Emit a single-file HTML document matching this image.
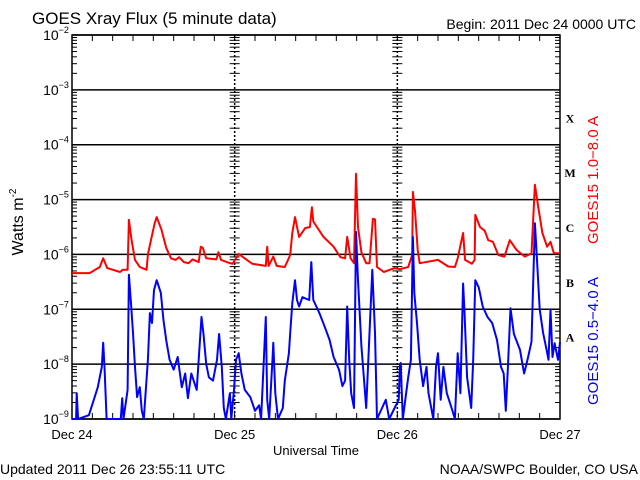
<!DOCTYPE html>
<html><head><meta charset="utf-8"><style>
html,body{margin:0;padding:0;background:#fff;}
svg{display:block;font-family:"Liberation Sans",sans-serif;}
</style></head><body>
<svg id="chart" width="640" height="480" viewBox="0 0 640 480">
<rect x="0" y="0" width="640" height="480" fill="#fff"/>
<text x="32" y="24" font-size="17" fill="#000">GOES Xray Flux (5 minute data)</text>
<text x="636" y="29" font-size="14" text-anchor="end" fill="#000">Begin:  2011 Dec 24 0000 UTC</text>
<text x="0" y="474" font-size="14" fill="#000">Updated 2011 Dec 26 23:55:11 UTC</text>
<text x="638" y="474" font-size="14" text-anchor="end" fill="#000">NOAA/SWPC Boulder, CO USA</text>
<text x="316" y="455" font-size="13" text-anchor="middle" fill="#000">Universal Time</text>
<text transform="translate(23,222) rotate(-90)" font-size="16" text-anchor="middle" fill="#000">Watts m<tspan font-size="10" dy="-7">-2</tspan></text>
<text transform="translate(598,180) rotate(-90)" font-size="15" text-anchor="middle" fill="#ff0000">GOES15 1.0−8.0 A</text>
<text transform="translate(598,341) rotate(-90)" font-size="15" text-anchor="middle" fill="#0000ff">GOES15 0.5−4.0 A</text>
<g id="grid"></g>
<g id="series"></g>
</svg>
<script>
const dayLabels=["Dec 24","Dec 25","Dec 26","Dec 27"];
const decadeExps=[-2,-3,-4,-5,-6,-7,-8,-9];
const classLabels=["X","M","C","B","A"];
const classExps=[-3.5,-4.5,-5.5,-6.5,-7.5];
// long channel (1-8 A): hours since Dec 24 00:00, log10 flux
const redT=[0,2.6,4.1,4.6,5.2,7.1,7.5,8.2,8.4,8.8,9.3,10,11,11.2,11.6,12.2,12.5,13.2,13.9,14.6,15.3,15.8,16.5,17.2,17.8,18.7,19,19.3,19.8,21.3,21.6,22,23.3,23.7,24.6,26.6,28.6,28.8,29,29.7,30.2,31.4,32.2,32.5,32.9,33.5,34.4,35.1,35.4,35.6,37.1,38.6,39.6,40.3,40.6,41.1,41.6,41.9,42.2,42.7,43.4,43.9,44.4,44.7,45,46,47.6,48.4,49.6,50.2,50.3,50.6,51,51.3,54,55.5,56.5,56.9,57.7,58,59,59.4,59.5,60.2,60.9,61.4,62.1,62.9,63.8,64.6,65.6,66.8,67.8,68.3,68.8,69.4,70.1,70.6,71.1,72];
const redV=[-6.34,-6.34,-6.23,-6.07,-6.25,-6.32,-6.28,-6.28,-5.37,-5.74,-6.10,-6.23,-6.28,-6.0,-5.77,-5.43,-5.32,-5.55,-5.88,-6.07,-6.10,-6.05,-6.14,-6.16,-6.09,-6.14,-5.86,-5.88,-6.07,-6.09,-5.96,-6.10,-6.16,-6.17,-5.99,-6.17,-6.21,-5.86,-6.21,-6.04,-6.21,-6.23,-6.01,-5.61,-5.32,-5.68,-5.52,-5.50,-5.14,-5.40,-5.68,-5.86,-6.05,-6.07,-5.68,-6.07,-6.16,-4.53,-5.50,-5.96,-6.16,-6.16,-5.35,-5.36,-6.23,-6.32,-6.25,-6.27,-6.23,-6.01,-4.86,-5.20,-5.92,-6.16,-6.10,-6.22,-6.23,-6.07,-5.61,-6.10,-6.17,-6.10,-5.28,-5.50,-5.57,-5.74,-5.77,-6.01,-6.04,-5.74,-5.92,-6.04,-5.98,-4.73,-5.14,-5.61,-5.86,-5.77,-5.98,-5.98];
// short channel (0.5-4 A)
const blueT=[0,0.6,0.7,0.9,2.5,3.8,4.4,4.6,4.8,5.1,7.2,7.4,7.6,8.2,8.4,8.7,9,9.3,9.6,10,10.3,10.6,11.2,11.5,11.8,12.1,12.5,13.1,13.5,13.9,14.4,15,15.6,16.2,16.7,17.1,17.6,18.4,19.1,19.4,19.8,20.2,20.8,21.4,21.7,22.1,22.4,22.7,23.3,23.5,23.9,24.2,24.6,25,25.5,26.3,27,27.6,27.9,28.6,28.8,29.1,29.6,29.7,30,30.4,31.1,31.4,32,32.2,32.5,32.9,33.2,33.5,34,35,35.3,35.6,36.5,37.2,38,38.6,39.4,39.9,40.3,40.6,40.9,41.2,41.6,41.9,42.2,42.7,43.1,43.4,44.3,44.7,45,46.3,46.8,47.6,48.2,48.4,48.5,48.8,49.6,50,50.3,50.5,50.9,51.3,51.8,52.3,52.6,53.3,53.7,54,54.4,54.8,55.3,56,56.5,56.9,57.3,57.7,57.9,58.3,58.9,59.2,59.5,60,60.6,61.3,62,62.7,63.3,63.7,64,64.3,64.7,65.2,66.1,66.7,67.2,67.8,68.3,68.6,69,69.5,70,70.3,70.6,70.9,71.2,71.7,72];
const blueV=[-9,-9,-8.53,-9,-8.93,-8.42,-8.05,-7.61,-8.05,-9,-9,-8.62,-9,-8.47,-6.37,-6.89,-7.43,-8.05,-8.60,-8.42,-8.85,-9,-7.92,-7.07,-7.25,-6.65,-6.47,-6.70,-7.20,-7.56,-7.92,-8.10,-7.87,-8.42,-8.17,-8.62,-8.17,-8.47,-7.14,-7.45,-8.0,-8.24,-8.30,-7.92,-7.45,-8.05,-8.80,-9,-8.53,-9,-8.47,-7.92,-7.80,-8.17,-8.47,-8.60,-8.85,-8.75,-9,-7.14,-8.65,-9,-7.87,-7.61,-8.53,-9,-8.80,-8.30,-7.80,-7.43,-6.89,-6.47,-6.83,-6.95,-6.78,-6.83,-6.14,-6.83,-7.07,-7.29,-7.56,-7.87,-8.10,-8.40,-8.30,-6.95,-7.92,-8.53,-8.80,-5.59,-6.47,-7.67,-8.30,-8.80,-6.28,-7.43,-9,-8.65,-9,-8.80,-8.65,-8.0,-7.98,-9,-8.24,-7.92,-5.68,-6.70,-7.25,-7.92,-8.40,-8.05,-8.53,-9,-8.05,-7.80,-8.65,-8.05,-8.53,-8.80,-9,-7.80,-8.53,-6.53,-7.0,-8.24,-8.80,-7.92,-6.47,-6.60,-6.95,-7.14,-7.25,-7.56,-8.05,-8.17,-8.85,-8.10,-6.98,-7.45,-7.74,-8.17,-7.92,-7.59,-5.43,-6.10,-7.0,-7.43,-7.72,-7.92,-7.0,-7.87,-7.62,-7.92,-7.60];

const NS="http://www.w3.org/2000/svg";
const L=72,R=560,T=35,B=419,HOURS=72;
const xS=h=>L+(R-L)*h/HOURS;
const yS=v=>B-(v+9)*(B-T)/7;
const grid=document.getElementById('grid');
const series=document.getElementById('series');
function mk(tag,attrs,parent){const e=document.createElementNS(NS,tag);for(const k in attrs)e.setAttribute(k,attrs[k]);parent.appendChild(e);return e;}

decadeExps.forEach(ex=>{
  const y=yS(ex);
  const ln=mk('line',{x1:L,x2:R,y1:y,y2:y,stroke:'#000','stroke-width':1.5},grid);
  
  
  const t=mk('text',{x:56,y:y+5,'font-size':14,'text-anchor':'middle',fill:'#000'},grid);
  
  
  t.textContent='10';
  const s=mk('tspan',{'font-size':9,dy:-7},t);s.textContent='−'+(-ex);
});
const tickXs=[[L,1],[xS(24),1],[xS(24),-1],[xS(48),1],[xS(48),-1],[R,-1]];
for(let ex=-9;ex<-2;ex++){
  for(let m=2;m<=9;m++){
    const y=yS(ex+Math.log10(m));
    tickXs.forEach(([x,d])=>{mk('line',{x1:x,x2:x+d*5,y1:y,y2:y,stroke:'#000','stroke-width':1},grid);});
  }
}
[24,48].forEach(h=>{
  const x=xS(h);
  const ln=mk('line',{x1:x,x2:x,y1:T,y2:B,stroke:'#000','stroke-width':1.5,'stroke-dasharray':'2,2'},grid);
  
  
});
for(let h=3;h<HOURS;h+=3){
  const x=xS(h);
  mk('line',{x1:x,x2:x,y1:T,y2:T+6,stroke:'#000','stroke-width':1},grid);
  mk('line',{x1:x,x2:x,y1:B,y2:B-6,stroke:'#000','stroke-width':1},grid);
}
dayLabels.forEach((d,i)=>{
  const t=mk('text',{x:xS(i*24),y:439,'font-size':13,'text-anchor':'middle',fill:'#000'},grid);
  
  
  t.textContent=d;
});
classLabels.forEach((c,i)=>{
  const t=mk('text',{x:570,y:yS(classExps[i])+5,'font-size':12,'font-weight':'bold','font-family':'Liberation Serif, serif','text-anchor':'middle',fill:'#000'},grid);
  
  
  t.textContent=c;
});
const fr=mk('rect',{x:L,y:T,width:R-L,height:B-T,fill:'none',stroke:'#000','stroke-width':1.5},grid);



function linePath(ts,vs){
  let d='';
  for(let i=0;i<ts.length;i++){
    const x=xS(ts[i]).toFixed(1),y=yS(Math.max(vs[i],-9)).toFixed(1);
    d+=(i===0?'M':' L')+x+' '+y;
  }
  return d;
}
const rp=mk('path',{d:linePath(redT,redV),fill:'none',stroke:'#ff0000','stroke-width':2,'stroke-linejoin':'round'},series);


const bp=mk('path',{d:linePath(blueT,blueV),fill:'none',stroke:'#0000ff','stroke-width':2,'stroke-linejoin':'round'},series);


</script>
</body></html>
